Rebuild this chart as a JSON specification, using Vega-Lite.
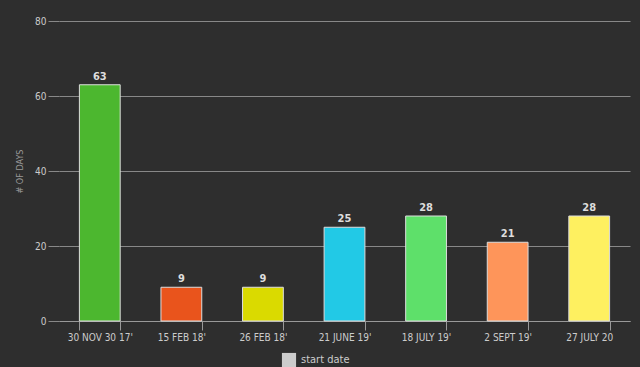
{
  "$schema": "https://vega.github.io/schema/vega-lite/v6.json",
  "autosize": {"type": "none"},
  "width": 571,
  "height": 300,
  "padding": {"left": 59, "top": 21, "right": 10, "bottom": 46},
  "background": "#2e2e2e",
  "config": {
    "view": {"stroke": null},
    "font": "DejaVu Sans Condensed",
    "axis": {"labelColor": "#cccccc", "titleColor": "#999999", "labelFont": "DejaVu Sans Condensed", "titleFont": "DejaVu Sans Condensed"}
  },
  "data": {
    "values": [
      {"date": "30 NOV 30 17'", "days": 63, "color": "#4cb72f"},
      {"date": "15 FEB 18'", "days": 9, "color": "#e9541c"},
      {"date": "26 FEB 18'", "days": 9, "color": "#dada00"},
      {"date": "21 JUNE 19'", "days": 25, "color": "#22c9e6"},
      {"date": "18 JULY 19'", "days": 28, "color": "#5ee06a"},
      {"date": "2 SEPT 19'", "days": 21, "color": "#fe955a"},
      {"date": "27 JULY 20", "days": 28, "color": "#fef060"}
    ]
  },
  "encoding": {
    "x": {
      "field": "date", "type": "nominal", "sort": null,
      "scale": {"paddingInner": 0.5, "paddingOuter": 0.25},
      "axis": {"title": null, "labelAngle": 0, "labelFontSize": 10, "labelPadding": 2,
               "tickBand": "extent", "tickSize": 9, "tickColor": "#999999",
               "domainColor": "#999999", "domainWidth": 1}
    },
    "y": {
      "field": "days", "type": "quantitative",
      "scale": {"domain": [0, 80]},
      "axis": {"title": "# OF DAYS", "values": [0, 20, 40, 60, 80], "titleFontSize": 9, "titleFontWeight": "normal",
               "titlePadding": 10, "labelFontSize": 10, "labelPadding": 2, "tickSize": 11, "tickColor": "#888888",
               "domain": false, "gridColor": "#888888", "gridWidth": 1}
    }
  },
  "layer": [
    {
      "mark": {"type": "bar", "stroke": "#dddddd", "strokeWidth": 1},
      "encoding": {"color": {"field": "color", "type": "nominal", "scale": null, "legend": null}}
    },
    {
      "mark": {"type": "text", "dy": -8, "fontSize": 11, "fontWeight": "bold", "color": "#dddddd"},
      "encoding": {"text": {"field": "days", "type": "quantitative"}}
    },
    {
      "mark": {"type": "bar", "strokeWidth": 0},
      "encoding": {
        "y": {"datum": 0},
        "y2": {"datum": 0},
        "fill": {"datum": "start date", "scale": {"range": ["#cccccc"]},
                 "legend": {"title": null, "orient": "none", "legendX": 222, "legendY": 331,
                            "symbolType": "square", "symbolSize": 200,
                            "labelColor": "#cccccc", "labelFontSize": 11}}
      }
    }
  ]
}
